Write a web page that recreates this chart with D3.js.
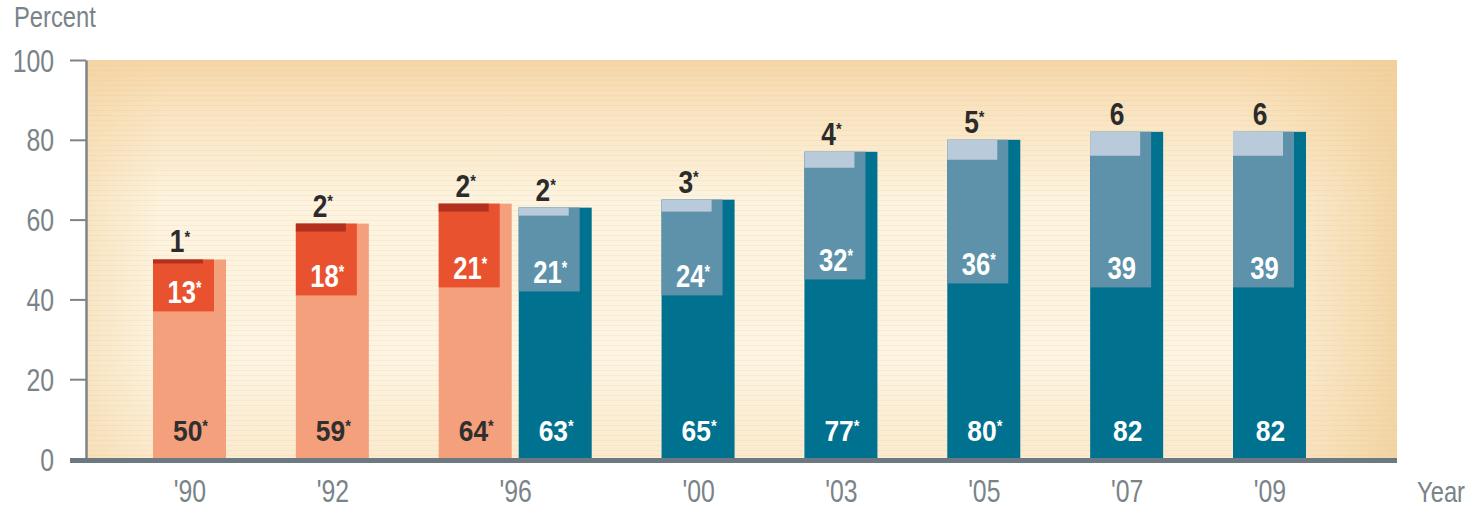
<!DOCTYPE html>
<html>
<head>
<meta charset="utf-8">
<script src="https://cdn.jsdelivr.net/npm/d3@7"></script>
<style>
  html, body { margin: 0; padding: 0; background: #ffffff; }
  svg { display: block; }
  text { font-family: "Liberation Sans", Arial, sans-serif; }
</style>
</head>
<body>
<script>
// ---------------- DATA ----------------
const categories = ["'90", "'92", "'96", "'00", "'03", "'05", "'07", "'09"];
const barYears   = ["'90", "'92", "'96", "'96", "'00", "'03", "'05", "'07", "'09"];
const barSeries  = ["old", "old", "old", "new", "new", "new", "new", "new", "new"];
const totalValues = [50, 59, 64, 63, 65, 77, 80, 82, 82];
const midValues   = [13, 18, 21, 21, 24, 32, 36, 39, 39];
const topValues   = [1, 2, 2, 2, 3, 4, 5, 6, 6];
const starred     = [true, true, true, true, true, true, true, false, false];
const yTicks = [0, 20, 40, 60, 80, 100];
const yAxisTitle = "Percent";
const xAxisTitle = "Year";

// ---------------- STYLE ----------------
const W = 1479, H = 509;
const palette = {
  old: { bar: "#f5a07c", mid: "#e9522f", top: "#b3301f", totalText: "#2f2f2f", midText: "#ffffff" },
  new: { bar: "#00718e", mid: "#5e92aa", top: "#b9cbdb", totalText: "#ffffff", midText: "#ffffff" }
};
const axisGray = "#7b8589";
const textGray = "#7a8388";

// horizontally condense text (emulates a narrow typeface)
function condense(sel, f) {
  sel.each(function () {
    const t = d3.select(this);
    const xv = +(t.attr("x") || 0);
    t.attr("x", xv / f).attr("transform", `scale(${f},1)`);
  });
}

const svg = d3.select("body").append("svg").attr("width", W).attr("height", H);

const y = d3.scaleLinear().domain([0, 100]).range([459, 60]);

// bar layout: slot units (one slot per year group, pairs sit side by side)
const pairStep = 0.56;
const slotPos = [];
barYears.forEach((yr, i) => {
  if (i === 0) slotPos.push(0);
  else slotPos.push(slotPos[i - 1] + (yr === barYears[i - 1] ? pairStep : 1));
});
const x = d3.scaleLinear().domain([0, d3.max(slotPos)]).range([153, 1233]);
const barW = 73, midW = 61, topW = 50;

const bars = barYears.map((yr, i) => ({
  year: yr, series: barSeries[i], total: totalValues[i], mid: midValues[i],
  top: topValues[i], star: starred[i], x0: x(slotPos[i])
}));

const catCenters = categories.map(c => d3.mean(bars.filter(b => b.year === c), b => b.x0 + barW / 2));
const xCat = d3.scaleOrdinal().domain(categories).range(catCenters);

// ---------------- BACKGROUND ----------------
const defs = svg.append("defs");
const gv = defs.append("linearGradient").attr("id", "bgv").attr("x1", 0).attr("x2", 0).attr("y1", 0).attr("y2", 1);
[["0%", "#f6d6a6"], ["12%", "#f9e3bf"], ["35%", "#fdf3de"], ["75%", "#fdf4e1"], ["100%", "#fbeacd"]]
  .forEach(([o, c]) => gv.append("stop").attr("offset", o).attr("stop-color", c));
const gh = defs.append("linearGradient").attr("id", "bgh").attr("x1", 0).attr("x2", 1).attr("y1", 0).attr("y2", 0);
[["0%", "#f3d3a0", 0.45], ["6%", "#f3d3a0", 0], ["88%", "#f3d3a0", 0], ["100%", "#f1cf98", 0.8]]
  .forEach(([o, c, op]) => gh.append("stop").attr("offset", o).attr("stop-color", c).attr("stop-opacity", op));
const pat = defs.append("pattern").attr("id", "streaks").attr("patternUnits", "userSpaceOnUse")
  .attr("width", 40).attr("height", 5);
pat.append("rect").attr("x", 0).attr("y", 0).attr("width", 40).attr("height", 1)
  .attr("fill", "#d9b98a").attr("opacity", 0.12);

const plotX0 = 86, plotX1 = 1397;
[ "url(#bgv)", "url(#bgh)", "url(#streaks)" ].forEach(f => {
  svg.append("rect").attr("x", plotX0).attr("y", y(100))
    .attr("width", plotX1 - plotX0).attr("height", y(0) - y(100)).attr("fill", f);
});

// ---------------- BARS ----------------
const g = svg.append("g");
g.selectAll("rect.bar").data(bars).join("rect").attr("class", "bar")
  .attr("x", d => d.x0).attr("y", d => y(d.total))
  .attr("width", barW).attr("height", d => y(0) - y(d.total))
  .attr("fill", d => palette[d.series].bar);
g.selectAll("rect.mid").data(bars).join("rect").attr("class", "mid")
  .attr("x", d => d.x0).attr("y", d => y(d.total))
  .attr("width", midW).attr("height", d => y(d.total - d.mid) - y(d.total))
  .attr("fill", d => palette[d.series].mid);
g.selectAll("rect.topseg").data(bars).join("rect").attr("class", "topseg")
  .attr("x", d => d.x0).attr("y", d => y(d.total))
  .attr("width", topW).attr("height", d => y(d.total - d.top) - y(d.total))
  .attr("fill", d => palette[d.series].top);

function addLabel(sel, value, star) {
  sel.text(value);
  if (star) sel.append("tspan").attr("font-size", "0.55em").attr("dy", "-0.55em").text("*");
}

// total labels
g.selectAll("text.total").data(bars).join("text").attr("class", "total")
  .attr("x", d => d.x0 + barW / 2 + 1).attr("y", 441)
  .attr("text-anchor", "middle").attr("font-size", 30).attr("font-weight", "bold")
  .attr("fill", d => palette[d.series].totalText)
  .each(function (d) { addLabel(d3.select(this), d.total, d.star); })
  .call(condense, 0.88);
// mid labels
g.selectAll("text.midl").data(bars).join("text").attr("class", "midl")
  .attr("x", d => d.x0 + midW / 2 + 1).attr("y", d => y(d.total - d.mid) - 8)
  .attr("text-anchor", "middle").attr("font-size", 32).attr("font-weight", "bold")
  .attr("fill", d => palette[d.series].midText)
  .each(function (d) { addLabel(d3.select(this), d.mid, d.star); })
  .call(condense, 0.8);
// top labels
g.selectAll("text.topl").data(bars).join("text").attr("class", "topl")
  .attr("x", d => d.x0 + topW / 2 + 2).attr("y", d => y(d.total) - 7)
  .attr("text-anchor", "middle").attr("font-size", 31).attr("font-weight", "bold")
  .attr("fill", "#2b2b2b")
  .each(function (d) { addLabel(d3.select(this), d.top, d.star); })
  .call(condense, 0.85);

// ---------------- AXES ----------------
const yAxis = svg.append("g").attr("transform", `translate(${plotX0},0)`)
  .call(d3.axisLeft(y).tickValues(yTicks).tickSize(16).tickSizeOuter(0).tickPadding(16));
yAxis.attr("font-family", null).attr("font-size", null);
yAxis.select(".domain").attr("stroke", axisGray).attr("stroke-width", 2.5);
yAxis.selectAll(".tick line").attr("stroke", axisGray).attr("stroke-width", 2);
yAxis.selectAll(".tick text").attr("font-size", 31)
  .attr("fill", textGray).attr("dy", "0.36em").call(condense, 0.8);

// baseline
svg.append("line").attr("x1", 70).attr("x2", plotX1).attr("y1", 460.5).attr("y2", 460.5)
  .attr("stroke", "#6c7980").attr("stroke-width", 5);

const xAxis = svg.append("g").attr("transform", `translate(0,${y(0)})`)
  .call(d3.axisBottom(xCat).tickSize(0).tickPadding(0));
xAxis.attr("font-family", null).attr("font-size", null);
xAxis.select(".domain").remove();
xAxis.selectAll(".tick text").attr("font-size", 31)
  .attr("fill", textGray).attr("y", 43).attr("dy", 0).call(condense, 0.8);

svg.append("text").attr("x", 14).attr("y", 27)
  .attr("font-size", 29).attr("fill", textGray).text(yAxisTitle).call(condense, 0.82);
svg.append("text").attr("x", 1417).attr("y", 502)
  .attr("font-size", 29).attr("fill", textGray).text(xAxisTitle).call(condense, 0.82);
</script>
</body>
</html>
